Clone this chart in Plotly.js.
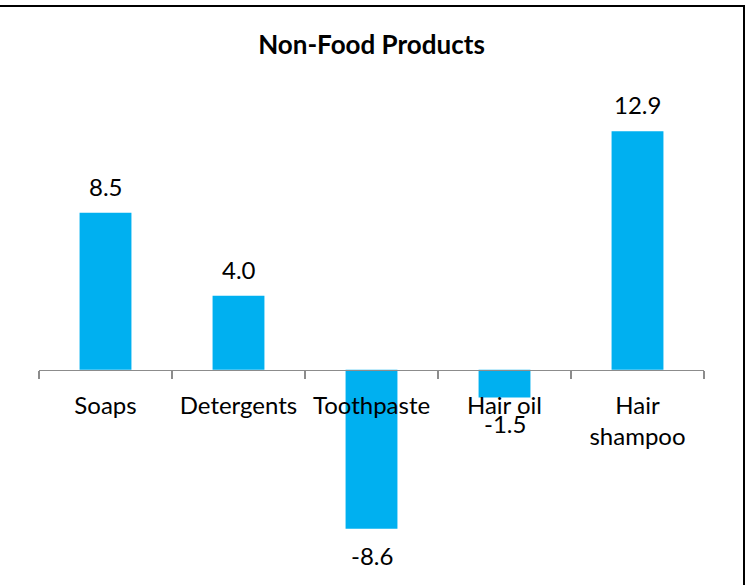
<!DOCTYPE html>
<html>
<head>
<meta charset="utf-8">
<script src="https://cdn.plot.ly/plotly-3.0.1.min.js"></script>
<style>
  html, body { margin: 0; padding: 0; background: #fff; }
  #wrap { position: relative; width: 751px; height: 585px; overflow: hidden; }
  #frame { position: absolute; left: -10px; top: 5px; width: 755px; height: 600px;
           border-top: 2px solid #000; border-right: 2px solid #000; box-sizing: border-box; pointer-events: none; }
  #chart { position: absolute; left: 0; top: 0; width: 751px; height: 585px; }
</style>
</head>
<body>
<div id="wrap">
  <div id="chart"></div>
  <div id="frame"></div>
</div>
<script>
const categories = ["Soaps", "Detergents", "Toothpaste", "Hair oil", "Hair shampoo"];
const tickLabels = ["Soaps", "Detergents", "Toothpaste", "Hair oil", "Hair<br>shampoo"];
const values = [8.5, 4.0, -8.6, -1.5, 12.9];
const valueLabels = values.map(v => v.toFixed(1));

const yRange = [-11, 14];
const zeroPos = (0 - yRange[0]) / (yRange[1] - yRange[0]);
const FONT = "Lato, 'Open Sans', sans-serif";

const annotations = values.map((v, i) => ({
  x: categories[i], y: v, xref: 'x', yref: 'y',
  text: valueLabels[i], showarrow: false,
  yanchor: v >= 0 ? 'bottom' : 'top',
  yshift: v >= 0 ? 10 : -10,
  font: { family: FONT, size: 24, color: '#000' }
}));

const trace = {
  type: 'bar',
  x: categories,
  y: values,
  marker: { color: '#00B0F0' },
  hoverinfo: 'none'
};

const layout = {
  width: 751, height: 585,
  margin: { l: 39, r: 47, t: 111.4, b: 11.8, pad: 0 },
  paper_bgcolor: 'rgba(0,0,0,0)',
  plot_bgcolor: 'rgba(0,0,0,0)',
  showlegend: false,
  bargap: 0.61,
  title: {
    text: '<b>Non-Food Products</b>',
    x: 0.5, xref: 'paper', xanchor: 'center',
    y: 540/585, yref: 'container', yanchor: 'middle',
    font: { family: FONT, size: 26, color: '#000' }
  },
  xaxis: {
    type: 'category',
    anchor: 'free', position: zeroPos,
    showline: true, linecolor: '#8c8c8c', linewidth: 1.5,
    ticks: 'outside', tickson: 'boundaries', ticklen: 8, tickwidth: 1.5, tickcolor: '#8c8c8c',
    showgrid: false, zeroline: false,
    tickvals: categories, ticktext: tickLabels,
    tickfont: { family: FONT, size: 24, color: '#000' },
    ticklabelstandoff: 14,
    fixedrange: true
  },
  yaxis: {
    range: yRange, visible: false, showgrid: false, zeroline: false, fixedrange: true
  },
  annotations: annotations
};

Plotly.newPlot('chart', [trace], layout, { staticPlot: true, displayModeBar: false });
</script>
</body>
</html>
